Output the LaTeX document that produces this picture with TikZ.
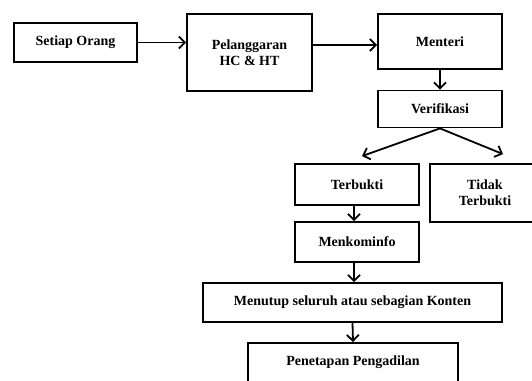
\documentclass[tikz,border=0pt]{standalone}
\usepackage{fontspec}
\setmainfont{Liberation Serif}
\usetikzlibrary{arrows.meta}

\begin{document}
\begin{tikzpicture}[x=1pt, y=-1pt,
    kotak/.style={draw, line width=1.8pt, align=center, inner sep=0,
                  font=\bfseries\fontsize{14}{16}\selectfont},
    panah/.style={line width=1.8pt, -{Straight Barb[length=6pt, width=12pt, line width=1.8pt]}}]

        \useasboundingbox (0, 0) rectangle (532, 380);

        % baris atas
        \node[kotak, minimum width=123, minimum height=39] (setiap) at (75.5, 42.5) {Setiap Orang};
        \node[kotak, minimum width=125, minimum height=77] (langgar) at (249.5, 52.5) {Pelanggaran\\HC \& HT};
        \node[kotak, minimum width=124, minimum height=55] (menteri) at (440, 41.5) {Menteri};
        \node[kotak, minimum width=124, minimum height=37] (verif) at (440, 109) {Verifikasi};

        % cabang
        \node[kotak, minimum width=124, minimum height=41] (terbukti) at (357, 184.5) {Terbukti};
        \node[kotak, minimum width=110, minimum height=58] (tidak) at (485, 193) {Tidak\\Terbukti};

        % baris bawah
        \node[kotak, minimum width=124, minimum height=40] (kominfo) at (357, 242) {Menkominfo};
        \node[kotak, minimum width=299, minimum height=39] (tutup) at (352.5, 302.5) {Menutup seluruh atau sebagian Konten};
        \node[kotak, minimum width=210, minimum height=50, text depth=14pt] (tetap) at (353, 368) {Penetapan Pengadilan};

        \draw[panah] (setiap.east) -- (langgar.west |- setiap.east);
        \draw[panah] ([yshift=7.5pt]langgar.east) -- ([yshift=-3.5pt]menteri.west);
        \draw[panah] (menteri.south) -- (verif.north);
        \draw[panah] (verif.south) -- ([xshift=5pt, yshift=7pt]terbukti.north);
        \draw[panah] (verif.south) -- ([xshift=18pt, yshift=9pt]tidak.north);
        \draw[panah] ([xshift=-3pt]terbukti.south) -- ([xshift=-3pt]kominfo.north);
        \draw[panah] ([xshift=-3pt]kominfo.south) -- ([xshift=-3pt]kominfo.south |- tutup.north);
        \draw[panah] (tutup.south) -- (tetap.north);
      \end{tikzpicture}
\end{document}
